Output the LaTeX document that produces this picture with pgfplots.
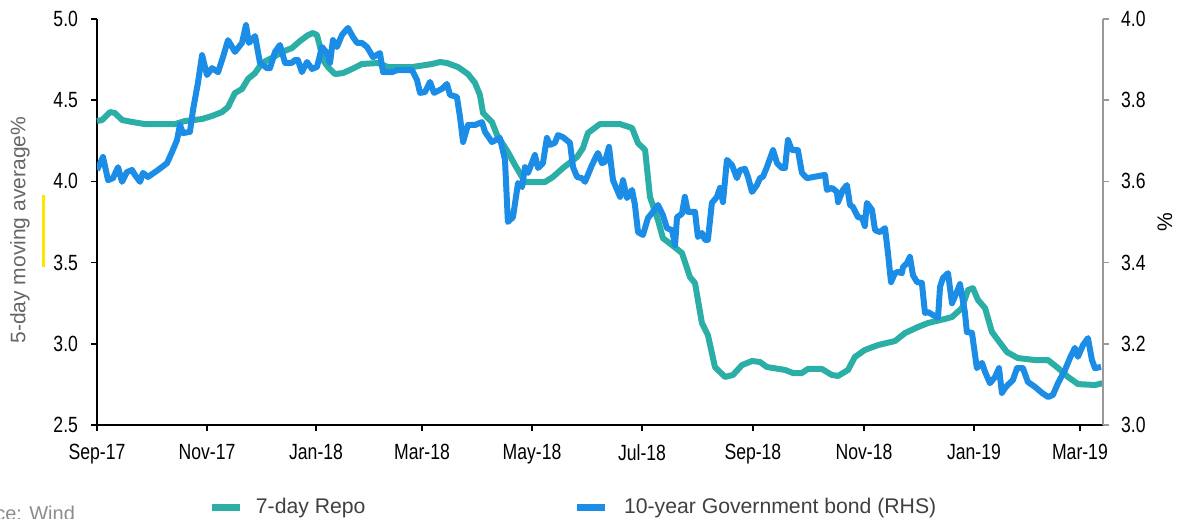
\documentclass[border=0pt]{standalone}
\usepackage{fontspec}
\setmainfont{Liberation Sans}
\newfontfamily\narrow{Liberation Sans}[FakeStretch=0.8]
\usepackage{pgfplots}
\pgfplotsset{compat=1.18}

\definecolor{repo}{HTML}{2BAEA6}
\definecolor{bond}{HTML}{1B8DE6}
\definecolor{eyyellow}{HTML}{FFE600}

% x = days from the Sep-17 tick
\pgfplotstableread{
x y
0 4.372
2.8 4.378
7.2 4.427
9.9 4.421
13.8 4.378
19.3 4.366
26.4 4.353
43.0 4.353
48.5 4.372
57.9 4.384
63.4 4.403
68.9 4.427
72.2 4.458
76.0 4.544
79.9 4.569
83.2 4.631
87.1 4.667
90.9 4.729
96.4 4.760
101.9 4.797
107.4 4.821
111.8 4.864
116.3 4.901
119.0 4.914
121.2 4.901
122.9 4.828
124.5 4.748
127.3 4.704
131.1 4.661
135.5 4.667
140.5 4.692
146.0 4.723
154.8 4.729
160.3 4.704
173.6 4.704
184.6 4.723
189.0 4.735
192.8 4.729
198.9 4.704
204.4 4.661
208.3 4.606
211.0 4.532
212.7 4.421
217.6 4.366
220.4 4.286
226.4 4.181
230.3 4.101
235.8 3.996
246.8 3.996
251.2 4.027
256.7 4.082
264.5 4.150
267.8 4.206
270.5 4.298
277.1 4.353
288.2 4.353
294.8 4.329
298.1 4.236
302.0 4.193
304.7 3.904
309.1 3.762
311.8 3.651
316.8 3.608
322.3 3.559
326.7 3.411
329.5 3.374
333.3 3.128
336.6 3.054
340.5 2.857
346.0 2.796
350.4 2.808
355.4 2.869
360.9 2.894
365.3 2.888
369.1 2.857
379.1 2.839
383.5 2.820
388.4 2.820
391.7 2.845
399.4 2.845
404.9 2.808
408.3 2.802
413.8 2.839
417.6 2.919
423.1 2.962
430.3 2.992
439.7 3.017
445.2 3.066
452.3 3.103
457.9 3.128
467.2 3.153
471.1 3.165
476.6 3.220
479.9 3.331
482.6 3.343
485.4 3.270
489.3 3.220
493.1 3.073
496.4 3.023
501.4 2.949
507.4 2.912
516.8 2.900
524.0 2.900
529.5 2.851
535.0 2.796
540.5 2.752
549.9 2.746
554.3 2.758
}\repo

\pgfplotstableread{
x y
0 3.628
3.3 3.660
6.1 3.603
8.8 3.608
11.6 3.635
13.8 3.599
16.5 3.623
19.3 3.628
20.9 3.616
23.7 3.599
25.3 3.621
28.1 3.611
33.6 3.628
38.6 3.645
41.3 3.672
44.1 3.702
45.7 3.739
47.4 3.719
51.2 3.722
52.9 3.776
55.6 3.842
57.9 3.911
60.6 3.862
63.4 3.879
66.7 3.869
69.4 3.906
72.2 3.948
76.0 3.919
79.9 3.941
82.1 3.985
83.7 3.941
87.1 3.958
89.8 3.892
93.7 3.879
95.3 3.879
98.1 3.919
100.8 3.936
103.6 3.892
107.4 3.892
109.1 3.899
110.7 3.899
112.9 3.869
115.7 3.894
118.5 3.877
121.2 3.882
124.0 3.931
126.7 3.916
128.4 3.892
130.0 3.948
132.2 3.931
135.0 3.961
138.3 3.978
141.0 3.956
143.3 3.941
146.0 3.941
148.8 3.931
152.1 3.906
155.9 3.916
157.6 3.869
162.5 3.869
165.3 3.874
173.6 3.874
176.3 3.850
178.0 3.818
180.7 3.820
183.5 3.845
185.7 3.818
190.1 3.828
192.8 3.840
194.5 3.813
198.3 3.808
200.0 3.759
201.7 3.697
204.4 3.739
208.3 3.739
212.1 3.746
213.8 3.722
217.6 3.697
222.0 3.707
224.8 3.653
226.4 3.500
229.2 3.512
232.0 3.596
234.2 3.586
235.8 3.635
237.5 3.621
241.3 3.665
243.0 3.633
245.7 3.645
247.9 3.707
249.6 3.690
252.3 3.695
254.0 3.714
256.7 3.709
260.6 3.695
262.3 3.635
264.5 3.611
267.2 3.608
268.9 3.599
272.7 3.640
276.0 3.670
278.2 3.645
279.9 3.648
282.1 3.685
284.3 3.603
288.2 3.562
289.8 3.603
292.0 3.559
294.8 3.579
296.4 3.542
298.1 3.475
300.8 3.468
303.6 3.510
306.3 3.525
309.1 3.542
311.8 3.517
314.0 3.485
316.8 3.480
318.5 3.443
319.6 3.512
322.3 3.520
323.9 3.562
325.6 3.525
329.5 3.525
331.1 3.463
333.3 3.473
335.0 3.456
336.6 3.456
338.8 3.547
341.6 3.562
343.3 3.584
344.9 3.549
347.1 3.653
349.9 3.640
352.6 3.608
354.3 3.628
357.0 3.631
358.7 3.611
360.9 3.574
363.6 3.591
365.3 3.608
366.9 3.611
369.1 3.635
372.5 3.677
374.7 3.645
377.4 3.633
379.1 3.633
380.7 3.702
382.9 3.677
386.2 3.677
388.4 3.621
391.2 3.608
401.1 3.616
402.2 3.579
405.0 3.584
407.7 3.574
408.3 3.549
411.0 3.579
413.2 3.591
414.9 3.542
416.5 3.537
419.3 3.512
421.5 3.510
423.1 3.490
424.2 3.547
427.0 3.530
428.7 3.480
431.4 3.475
434.2 3.485
435.8 3.424
437.5 3.352
439.7 3.374
441.3 3.377
443.5 3.374
444.1 3.389
446.3 3.399
447.9 3.414
449.6 3.369
451.8 3.352
454.5 3.350
456.2 3.276
457.9 3.278
460.6 3.271
463.4 3.264
464.5 3.340
466.1 3.362
468.9 3.374
471.1 3.300
473.8 3.328
475.5 3.347
478.2 3.278
479.3 3.229
482.1 3.227
484.8 3.140
487.6 3.153
489.3 3.131
492.0 3.103
494.8 3.118
497.0 3.140
498.6 3.079
500.3 3.091
501.9 3.099
504.7 3.111
506.9 3.140
510.2 3.140
512.9 3.106
516.8 3.094
520.7 3.079
524.0 3.069
526.7 3.074
529.5 3.103
533.3 3.135
536.1 3.165
538.8 3.190
540.5 3.168
543.3 3.197
546.0 3.214
548.2 3.160
549.9 3.140
553.2 3.143
}\bond

\pgfplotsset{
  common/.style={
    scale only axis, width=503pt, height=203pt,
    xmin=0, xmax=554.3,
    tick align=outside, major tick length=3pt,
    ticklabel style={font=\narrow\fontsize{11}{13}\selectfont},
    /pgf/number format/assume math mode=true,
    y tick label style={/pgf/number format/fixed,
      /pgf/number format/fixed zerofill, /pgf/number format/precision=1},
  },
}

\begin{document}
\begin{tikzpicture}
\begin{axis}[
  common, name=ax, clip=false,
  ymin=2.5, ymax=5.0,
  axis x line*=bottom, axis y line*=left,
  axis line style={black, line width=0.8pt, -},
  tick style={black, line width=0.8pt},
  xtick={0,60.6,120.7,179.1,239.7,300.3,361.4,422.6,483.2,541.6},
  xticklabels={Sep-17,Nov-17,Jan-18,Mar-18,May-18,Jul-18,Sep-18,Nov-18,Jan-19,Mar-19},
  xticklabel style={yshift=-3pt},
  yticklabel style={xshift=-3pt},
  ytick={2.5,3.0,3.5,4.0,4.5,5.0},
  ylabel={5-day moving average\%},
  ylabel style={at={(axis description cs:-0.0765,0.48)}, anchor=center,
    font=\fontsize{10.5}{12}\selectfont, text=black!60},
]
\addplot[repo, line width=3pt, line join=round] table {\repo};
\draw[eyyellow, line width=1.5pt] (rel axis cs:-0.0527,0.389) -- (rel axis cs:-0.0527,0.567);
\end{axis}

\begin{axis}[
  common,
  ymin=3.0, ymax=4.0,
  hide x axis, axis y line*=right,
  axis line style={black!40, line width=0.8pt, -},
  tick style={black!40, line width=0.8pt},
  ytick={3.0,3.2,3.4,3.6,3.8,4.0},
  yticklabel style={xshift=2.5pt},
  ylabel={\%},
  ylabel style={at={(axis description cs:1.0616,0.5)}, anchor=center,
    font=\fontsize{10.5}{12}\selectfont},
  legend style={draw=none, fill=none, inner sep=0pt,
    at={(axis description cs:0.110,-0.202)}, anchor=west,
    font=\fontsize{10.6}{12}\selectfont, text=black!75,
    /tikz/every even column/.append style={column sep=102pt}},
  legend columns=2,
  legend image code/.code={\draw[#1, line width=3.5pt] (0pt,0pt) -- (14pt,0pt);
    \path (20pt,0pt);},
]
\addlegendimage{repo}
\addlegendentry{7-day Repo}
\addplot[bond, line width=3pt, line join=round] table {\bond};
\addlegendentry{10-year Government bond (RHS)}
\end{axis}

\node[anchor=base east, font=\fontsize{10}{12}\selectfont, text=black!45]
  at ([shift={(-7.5pt,-48pt)}]ax.south west) {Source: Wind};

\pgfresetboundingbox
\path[use as bounding box] ([shift={(-48.5pt,-47pt)}]ax.south west)
  rectangle ([shift={(39pt,9.5pt)}]ax.north east);
\end{tikzpicture}
\end{document}
